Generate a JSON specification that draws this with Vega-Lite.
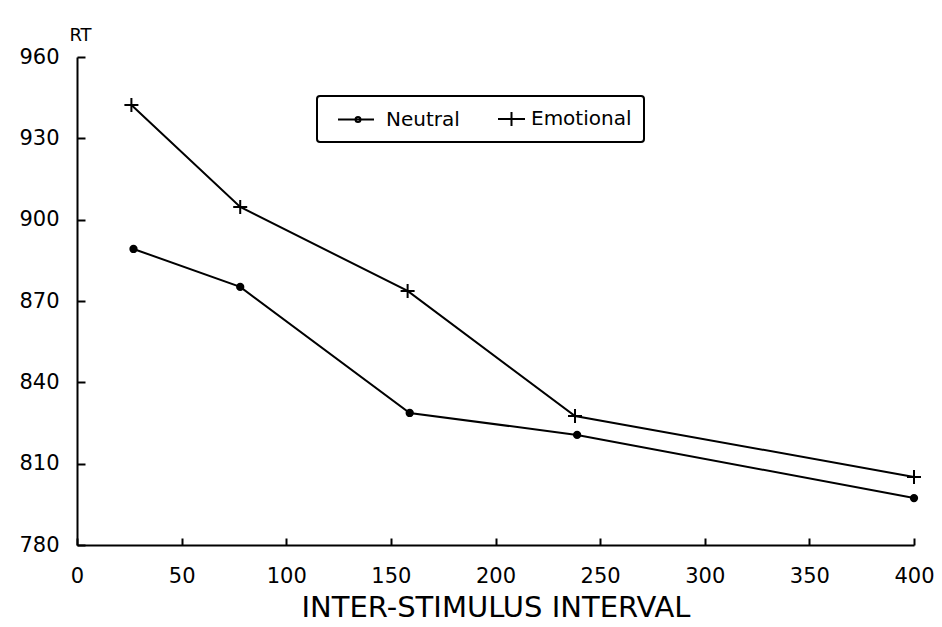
{
  "$schema": "https://vega.github.io/schema/vega-lite/v6.json",
  "width": 837,
  "height": 488,
  "autosize": {"type": "none"},
  "padding": {"left": 77, "top": 57, "right": 28, "bottom": 82},
  "background": "white",
  "config": {
    "view": {"stroke": null},
    "font": "DejaVu Sans",
    "legend": {"strokeColor": "black", "strokeWidth": 2, "cornerRadius": 3, "padding": 12},
    "axis": {
      "grid": false,
      "domainColor": "black",
      "domainWidth": 2,
      "tickColor": "black",
      "tickWidth": 2,
      "labelColor": "black",
      "titleColor": "black",
      "labelFont": "DejaVu Sans",
      "titleFont": "DejaVu Sans",
      "titleFontWeight": "normal"
    }
  },
  "data": {
    "values": [
      {"series": "Neutral", "isi": 27, "rt": 889.2},
      {"series": "Neutral", "isi": 78, "rt": 875.2},
      {"series": "Neutral", "isi": 159, "rt": 828.7},
      {"series": "Neutral", "isi": 239, "rt": 820.6},
      {"series": "Neutral", "isi": 400, "rt": 797.3},
      {"series": "Emotional", "isi": 26, "rt": 942.3},
      {"series": "Emotional", "isi": 78, "rt": 904.7},
      {"series": "Emotional", "isi": 158, "rt": 873.7},
      {"series": "Emotional", "isi": 238, "rt": 827.6},
      {"series": "Emotional", "isi": 400, "rt": 805.1}
    ]
  },
  "encoding": {
    "x": {
      "field": "isi",
      "type": "quantitative",
      "scale": {"domain": [0, 400], "nice": false, "zero": false},
      "axis": {
        "title": "INTER-STIMULUS INTERVAL",
        "values": [0, 50, 100, 150, 200, 250, 300, 350, 400],
        "tickSize": -7,
        "labelPadding": 27,
        "labelFontSize": 21,
        "labelFlush": false,
        "titleFontSize": 29,
        "titlePadding": 7
      }
    },
    "y": {
      "field": "rt",
      "type": "quantitative",
      "scale": {"domain": [780, 960], "nice": false, "zero": false},
      "axis": {
        "title": "RT",
        "values": [780, 810, 840, 870, 900, 930, 960],
        "tickSize": -8,
        "labelPadding": 26,
        "labelFontSize": 21,
        "titleFontSize": 18,
        "titleAngle": 0,
        "titleX": 3,
        "titleY": -22,
        "titleAlign": "center",
        "titleBaseline": "middle"
      }
    }
  },
  "resolve": {"scale": {"shape": "independent"}},
  "layer": [
    {
      "mark": {"type": "line", "color": "black", "strokeWidth": 2},
      "encoding": {"detail": {"field": "series"}}
    },
    {
      "mark": {"type": "point", "filled": true, "fill": "black", "stroke": "black", "strokeWidth": 2, "size": 196, "opacity": 1},
      "encoding": {
        "shape": {
          "field": "series",
          "type": "nominal",
          "scale": {
            "domain": ["Neutral", "Emotional"],
            "range": ["M0.45,0A0.45,0.45 0 1,1 -0.45,0A0.45,0.45 0 1,1 0.45,0", "M-1,0H1M0,-1V1"]
          },
          "legend": null
        }
      }
    },
    {
      "transform": [{"filter": "datum.isi < 0"}],
      "mark": {"type": "point", "filled": false, "color": "black", "strokeWidth": 2, "size": 400, "opacity": 1},
      "encoding": {
        "shape": {
          "field": "series",
          "type": "nominal",
          "scale": {
            "domain": ["Neutral", "Emotional"],
            "range": [
              "M-0.2,0H3.4M2.05,0A0.25,0.25 0 1,1 1.55,0A0.25,0.25 0 1,1 2.05,0",
              "M1.3,0H4.0M2.65,-0.7V0.7"
            ]
          },
          "legend": {
            "orient": "none",
            "legendX": 240,
            "legendY": 39,
            "direction": "horizontal",
            "title": null,
            "labelFontSize": 20,
            "labelColor": "black",
            "symbolSize": 400,
            "symbolStrokeWidth": 2,
            "symbolStrokeColor": "black",
            "symbolFillColor": "black",
            "columnPadding": 14,
            "labelOffset": 35
          }
        }
      }
    }
  ]
}
